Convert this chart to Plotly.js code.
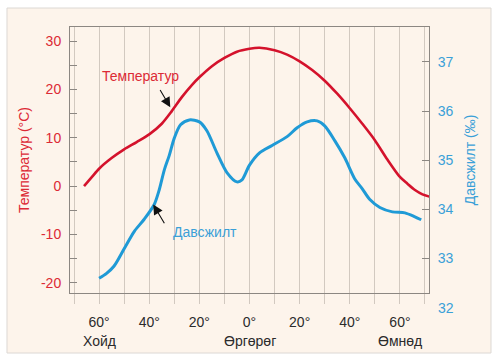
<!DOCTYPE html>
<html>
<head>
<meta charset="utf-8">
<script src="https://cdn.plot.ly/plotly-3.0.1.min.js"></script>
<style>
html,body{margin:0;padding:0;background:#ffffff;}
#chart{width:492px;height:354px;}
</style>
</head>
<body>
<div id="chart"></div>
<script>
// Latitude: negative = north (Хойд), positive = south (Өмнөд)
const tempLat = [-66, -63, -60, -55, -50, -45, -40, -35, -31, -27, -23, -20, -15, -10, -5, 0, 4, 10, 15, 20, 25, 30, 35, 40, 45, 50, 55, 60, 63, 66, 69, 72];
const tempVal = [0, 1.8, 3.6, 5.8, 7.6, 9.1, 10.7, 12.9, 15.5, 18.4, 20.9, 22.5, 24.8, 26.5, 27.8, 28.4, 28.6, 28.1, 27.2, 25.8, 24.0, 21.8, 19.1, 16.1, 12.9, 9.5, 5.5, 1.9, 0.5, -0.8, -1.7, -2.2];

const salLat = [-60, -57, -54, -50, -46, -42, -38, -36, -34, -32, -30, -27.5, -24, -20, -17, -13, -9, -5, -3, 0, 4, 9, 15, 19, 23, 27, 30, 34, 38, 42, 45, 48, 52, 57, 62, 66, 68.5];
const salVal = [32.6, 32.7, 32.85, 33.2, 33.55, 33.8, 34.1, 34.4, 34.8, 35.1, 35.45, 35.72, 35.82, 35.78, 35.6, 35.15, 34.75, 34.56, 34.6, 34.9, 35.15, 35.3, 35.48, 35.66, 35.78, 35.8, 35.7, 35.4, 35.05, 34.62, 34.42, 34.2, 34.04, 33.95, 33.93, 33.85, 33.79];

const xTickVals = [-70, -60, -50, -40, -30, -20, -10, 0, 10, 20, 30, 40, 50, 60, 70];
const xTickText = ['', '60°', '', '40°', '', '20°', '', '0°', '', '20°', '', '40°', '', '60°', ''];
const yTickVals = [-20, -15, -10, -5, 0, 5, 10, 15, 20, 25, 30];
const yTickText = ['-20', '', '-10', '', '0', '', '10', '', '20', '', '30'];
const y2TickVals = [33, 34, 35, 36, 37];
const y2Extra = 32;
const regionLabels = ['Хойд', 'Өргөрөг', 'Өмнөд'];
const regionLat = [-60, 0, 60];

const xRange = [-71.6, 71.6];
const yRange = [-22.1, 32.9];
const y2Range = [32.3, 37.71];

const RED = '#d4122c';
const BLUE = '#1f9ad6';
const RED_TXT = '#dc2a35';
const BLUE_TXT = '#3aa0d8';
const GRID = '#d2c9c0';
const AXIS = '#8c8782';
const FONT = 'Liberation Sans, Arial, sans-serif';

const traces = [
  {x: tempLat, y: tempVal, type: 'scatter', mode: 'lines', yaxis: 'y',
   line: {color: RED, width: 2.6, shape: 'spline', smoothing: 0.8}, hoverinfo: 'skip'},
  {x: salLat, y: salVal, type: 'scatter', mode: 'lines', yaxis: 'y2',
   line: {color: BLUE, width: 3, shape: 'spline', smoothing: 0.8}, hoverinfo: 'skip'}
];

const annotations = [
  {x: -43.6, y: 22.7, xref: 'x', yref: 'y', text: 'Температур', showarrow: false,
   font: {family: FONT, size: 14, color: RED_TXT}},
  {x: -31.6, y: 16.3, xref: 'x', yref: 'y', ax: -36, ay: 20.2, axref: 'x', ayref: 'y',
   text: '', showarrow: true, arrowhead: 2, arrowsize: 1.8, arrowwidth: 1.1, arrowcolor: '#111'},
  {x: -17.6, y: 33.55, xref: 'x', yref: 'y2', text: 'Давсжилт', showarrow: false,
   font: {family: FONT, size: 14, color: BLUE_TXT}},
  {x: -38.4, y: 34.1, xref: 'x', yref: 'y2', ax: -33.6, ay: 33.69, axref: 'x', ayref: 'y2',
   text: '', showarrow: true, arrowhead: 2, arrowsize: 1.8, arrowwidth: 1.1, arrowcolor: '#111'},
  {x: 1, xanchor: 'left', xshift: 7,
   y: (y2Extra - y2Range[0]) / (y2Range[1] - y2Range[0]), yanchor: 'middle',
   xref: 'paper', yref: 'paper', text: String(y2Extra), showarrow: false,
   font: {family: FONT, size: 14, color: BLUE_TXT}}
];
regionLabels.forEach((t, i) => {
  annotations.push({x: regionLat[i], y: -0.18, xref: 'x', yref: 'paper', text: t,
    showarrow: false, yanchor: 'middle', font: {family: FONT, size: 14, color: '#2b2b2b'}});
});

const layout = {
  width: 492, height: 354,
  margin: {l: 70, r: 63, t: 27, b: 61},
  paper_bgcolor: '#ffffff',
  plot_bgcolor: 'rgba(0,0,0,0)',
  showlegend: false,
  font: {family: FONT},
  shapes: [
    {type: 'rect', xref: 'paper', yref: 'paper', x0: -0.1755, x1: 1.1727, y0: -0.2256, y1: 1.0714,
     fillcolor: '#fdf4eb', line: {color: '#dcd8d4', width: 1}, layer: 'below'}
  ],
  xaxis: {
    range: xRange, tickmode: 'array', tickvals: xTickVals, ticktext: xTickText,
    showgrid: true, gridcolor: GRID, gridwidth: 1, zeroline: false,
    showline: true, linecolor: AXIS, linewidth: 1, mirror: true,
    ticks: 'outside', ticklen: 10, tickcolor: GRID, tickwidth: 1,
    ticklabelstandoff: 6,
    tickfont: {family: FONT, size: 14, color: '#2b2b2b'}
  },
  yaxis: {
    range: yRange, tickmode: 'array', tickvals: yTickVals, ticktext: yTickText,
    showgrid: false, zeroline: false,
    showline: true, linecolor: AXIS, linewidth: 1,
    ticks: 'inside', ticklen: 7, tickcolor: AXIS, tickwidth: 1,
    ticklabelstandoff: 5,
    tickfont: {family: FONT, size: 14, color: RED_TXT},
    title: {text: 'Температур (°C)', font: {family: FONT, size: 14, color: RED_TXT}, standoff: 8}
  },
  yaxis2: {
    range: y2Range, overlaying: 'y', side: 'right', tickmode: 'array', tickvals: y2TickVals,
    showgrid: false, zeroline: false,
    showline: true, linecolor: AXIS, linewidth: 1,
    ticks: 'inside', ticklen: 7, tickcolor: AXIS, tickwidth: 1,
    ticklabelstandoff: 5,
    tickfont: {family: FONT, size: 14, color: BLUE_TXT},
    title: {text: 'Давсжилт (‰)', font: {family: FONT, size: 14, color: BLUE_TXT}, standoff: 12}
  },
  annotations: annotations
};

Plotly.newPlot('chart', traces, layout, {staticPlot: true, displayModeBar: false});
</script>
</body>
</html>
